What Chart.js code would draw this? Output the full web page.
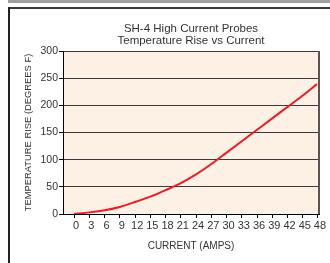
<!DOCTYPE html>
<html>
<head>
<meta charset="utf-8">
<script src="https://cdn.jsdelivr.net/npm/chart.js@4/dist/chart.umd.min.js"></script>
<style>
  html, body { margin: 0; padding: 0; background: #fff; }
  #wrap { position: relative; width: 330px; height: 263px; overflow: hidden; }
  .deco { position: absolute; }
  canvas { position: absolute; left: 0; top: 0; }
</style>
</head>
<body>
<div id="wrap">
  <div class="deco" style="left:8px;top:0;width:322px;height:3px;background:#a0a0a0;"></div>
  <div class="deco" style="left:8px;top:7px;width:322px;height:2px;background:#3a3a3a;"></div>
  <div class="deco" style="left:8px;top:7px;width:2px;height:256px;background:#222;"></div>
  <canvas id="c" width="330" height="263"></canvas>
</div>
<script>
// ---- data ----
const titleLines = ['SH-4 High Current Probes', 'Temperature Rise vs Current'];
const xTitle = 'CURRENT (AMPS)';
const yTitle = 'TEMPERATURE RISE (DEGREES F)';
const xTickValues = [0, 3, 6, 9, 12, 15, 18, 21, 24, 27, 30, 33, 36, 39, 42, 45, 48];
const yTickValues = [0, 50, 100, 150, 200, 250, 300];
const currentAmps = [0, 3, 6, 9, 12, 15, 18, 21, 24, 27, 30, 33, 36, 39, 42, 45, 47.8];
const tempRiseF  = [0, 3, 7, 13, 22, 32, 44, 57, 73, 92, 113, 134, 155, 176, 197, 218, 239];

const points = currentAmps.map((x, i) => ({ x: x, y: tempRiseF[i] }));
const FONT = "'Liberation Sans', Arial, Helvetica, sans-serif";

const plotDeco = {
  id: 'plotDeco',
  beforeDraw(chart) {
    const { ctx, chartArea: a } = chart;
    ctx.save();
    ctx.fillStyle = '#fdf1e6';
    ctx.fillRect(a.left, a.top, a.right - a.left, a.bottom - a.top);
    ctx.restore();
  },
  afterDraw(chart) {
    const { ctx, chartArea: a } = chart;
    ctx.save();
    ctx.strokeStyle = '#5e5350';
    ctx.lineWidth = 2;
    ctx.beginPath();
    ctx.moveTo(a.right, a.top);
    ctx.lineTo(a.right, a.bottom);
    ctx.stroke();
    ctx.restore();
  }
};

new Chart(document.getElementById('c'), {
  type: 'line',
  data: {
    datasets: [{
      data: points,
      borderColor: '#ed1c24',
      borderWidth: 2,
      pointRadius: 0,
      fill: false,
      cubicInterpolationMode: 'monotone'
    }]
  },
  options: {
    responsive: false,
    animation: false,
    layout: { padding: { left: 8, right: 11, top: 8, bottom: 0 } },
    plugins: {
      legend: { display: false },
      tooltip: { enabled: false },
      title: {
        display: true,
        text: titleLines,
        fullSize: false,
        color: '#333',
        font: { family: FONT, size: 11.5, weight: 'normal', lineHeight: 1.0435 },
        padding: { top: 15, bottom: 4 }
      }
    },
    scales: {
      x: {
        type: 'linear',
        min: -2.2,
        max: 48.2,
        afterBuildTicks: (axis) => { axis.ticks = xTickValues.map(v => ({ value: v })); },
        afterFit: (axis) => { axis.height = 49; },
        ticks: {
          autoSkip: false, maxRotation: 0, minRotation: 0,
          labelOffset: 2, padding: 1,
          color: '#333',
          font: { family: FONT, size: 11 }
        },
        grid: { drawOnChartArea: false, drawTicks: true, tickLength: 4, tickColor: '#000' },
        border: { display: true, color: '#000', width: 1 },
        title: {
          display: true, text: xTitle, color: '#333',
          font: { family: FONT, size: 10 },
          padding: { top: 0, bottom: 11 }
        }
      },
      y: {
        min: 0,
        max: 300,
        afterBuildTicks: (axis) => { axis.ticks = yTickValues.map(v => ({ value: v })); },
        afterFit: (axis) => { axis.width = 55; },
        ticks: { padding: 1, color: '#333', font: { family: FONT, size: 10.5 } },
        grid: { color: '#3a3a3a', lineWidth: 1, drawTicks: true, tickLength: 4, tickColor: '#000' },
        border: { display: true, color: '#000', width: 1 },
        title: {
          display: true, text: yTitle, color: '#333',
          font: { family: FONT, size: 9.4 },
          padding: { top: 15, bottom: 0 }
        }
      }
    }
  },
  plugins: [plotDeco]
});
</script>
</body>
</html>
